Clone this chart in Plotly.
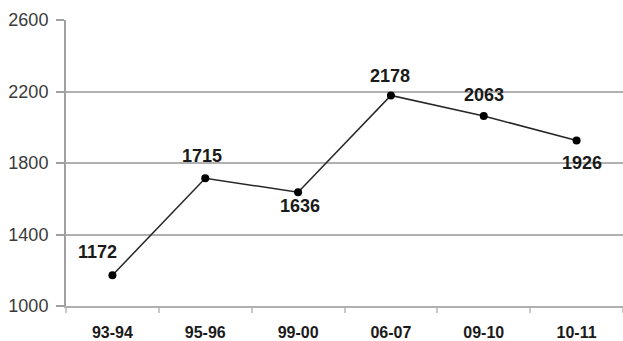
import plotly.graph_objects as go

# Session labels and counts
periods = ["93-94", "95-96", "99-00", "06-07", "09-10", "10-11"]
counts = [1172, 1715, 1636, 2178, 2063, 1926]

# Value-label offsets (px) relative to each point
label_dx = [-15, -3, 2, -1, 0, 5]
label_dy = [23, 22, -14, 19, 21, -23]

y_ticks = [1000, 1400, 1800, 2200, 2600]

fig = go.Figure()
fig.add_trace(go.Scatter(
    x=periods, y=counts,
    mode="lines+markers",
    line=dict(color="#262626", width=1.5),
    marker=dict(color="#000000", size=8),
    hoverinfo="skip",
))

for p, v, dx, dy in zip(periods, counts, label_dx, label_dy):
    fig.add_annotation(
        x=p, y=v, text=str(v), showarrow=False,
        xshift=dx, yshift=dy,
        font=dict(family="Liberation Sans, Arial", size=18, color="#1a1a1a", weight="bold"),
    )

fig.update_layout(
    width=623, height=341,
    margin=dict(l=66, r=0, t=20, b=33),
    paper_bgcolor="white", plot_bgcolor="white",
    showlegend=False,
)
fig.update_xaxes(
    type="category",
    range=[-0.5, 5.5],
    tickson="boundaries",
    ticks="outside", ticklen=5, tickcolor="#c8c8c8", tickwidth=1.5,
    showgrid=False,
    showline=True, linecolor="#b0b0b0", linewidth=2,
    tickfont=dict(family="Liberation Sans, Arial", size=16, color="#1a1a1a", weight="bold"),
    ticklabelstandoff=11,
)
fig.update_yaxes(
    range=[1000, 2600],
    tickvals=y_ticks,
    ticktext=[str(t) for t in y_ticks],
    ticks="outside", ticklen=8, tickcolor="#a0a0a0", tickwidth=1.5,
    showgrid=True, gridcolor="#b0b0b0", gridwidth=2,
    zeroline=False,
    showline=True, linecolor="#a0a0a0", linewidth=2,
    tickfont=dict(family="Liberation Sans, Arial", size=18, color="#3a3a3a"),
    ticklabelstandoff=4,
)

fig.write_html("out.html")
